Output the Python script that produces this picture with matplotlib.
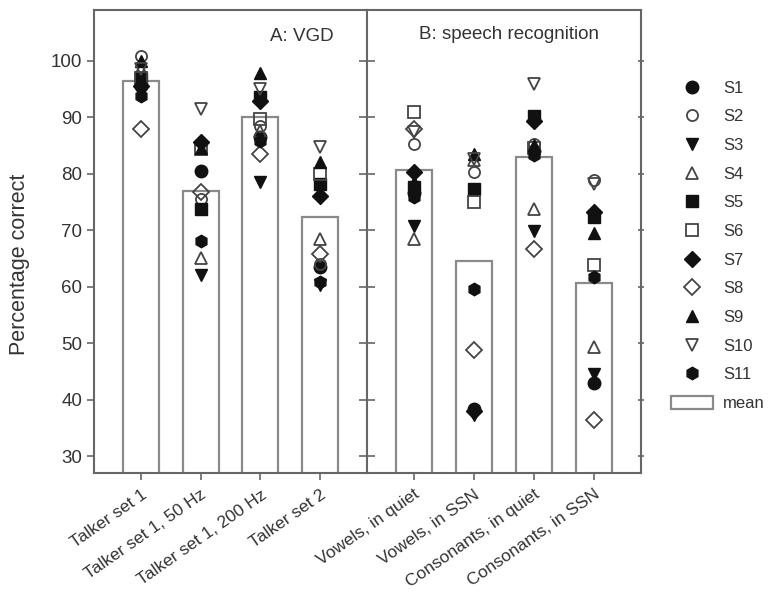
import matplotlib
matplotlib.use("Agg")
import matplotlib.pyplot as plt
from matplotlib.lines import Line2D
from matplotlib.patches import Patch

plt.rcParams["font.family"] = ["Liberation Sans", "DejaVu Sans"]

# conditions: first four = panel A (VGD), last four = panel B (speech recognition)
conditions = ["Talker set 1", "Talker set 1, 50 Hz", "Talker set 1, 200 Hz", "Talker set 2",
              "Vowels, in quiet", "Vowels, in SSN", "Consonants, in quiet", "Consonants, in SSN"]
means = [96.5, 76.9, 90.1, 72.3, 80.7, 64.5, 83.0, 60.6]

S1 = [95.5, 80.5, 86.5, 63.5, 76.5, 38.3, 84.0, 42.9]
S2 = [100.8, 75.5, 88.5, 64.0, 85.3, 80.3, 85.3, 78.8]
S3 = [97.0, 62.0, 78.5, 60.3, 70.8, 37.3, 69.8, 44.6]
S4 = [98.5, 65.0, 87.5, 68.5, 68.5, 82.5, 73.8, 49.3]
S5 = [96.8, 73.8, 93.5, 78.2, 77.6, 77.3, 90.3, 72.3]
S6 = [97.0, 84.4, 89.7, 80.0, 90.9, 75.0, 84.5, 63.8]
S7 = [95.5, 85.6, 92.8, 76.1, 80.3, 38.0, 89.4, 73.2]
S8 = [88.0, 76.7, 83.5, 65.8, 88.0, 48.7, 66.6, 36.4]
S9 = [100.0, 84.5, 97.9, 82.0, 78.5, 83.5, 85.0, 69.5]
S10 = [98.6, 91.5, 95.0, 84.7, 87.3, 82.6, 95.9, 78.2]
S11 = [93.7, 68.0, 85.8, 60.8, 75.8, 59.6, 83.3, 61.7]

subjects = [S1, S2, S3, S4, S5, S6, S7, S8, S9, S10, S11]
names = ["S%d" % (i + 1) for i in range(len(subjects))]
# (marker, filled, size)
styles = [("o", True, 9), ("o", False, 8), ("v", True, 9), ("^", False, 9),
          ("s", True, 8), ("s", False, 8), ("D", True, 8), ("D", False, 8),
          ("^", True, 9), ("v", False, 9), ("h", True, 9)]

INK = "#111111"
FRAME = "#666666"
BAR = "#8a8a8a"
TEXT = "#333333"

fig = plt.figure(figsize=(7.75, 5.93), dpi=100)
axA = fig.add_axes([0.1213, 0.2024, 0.3523, 0.7808])
axB = fig.add_axes([0.4735, 0.2024, 0.3535, 0.7808], sharey=axA)


def draw(ax, idx):
    xs = list(range(len(idx)))
    ax.bar(xs, [means[i] for i in idx], width=0.6, facecolor="white",
           edgecolor=BAR, linewidth=1.6, zorder=1)
    for vals, (m, filled, ms) in zip(subjects, styles):
        ax.plot(xs, [vals[i] for i in idx], linestyle="none", marker=m, markersize=ms,
                markerfacecolor=INK if filled else "none",
                markeredgecolor=INK if filled else "#444444",
                markeredgewidth=1.0 if filled else 1.3, zorder=3, clip_on=False)
    ax.set_xlim(-0.78, 3.78)
    ax.set_xticks(xs)
    ax.set_xticklabels([conditions[i] for i in idx], rotation=35, ha="right",
                       rotation_mode="anchor", fontsize=12.5, color=TEXT)
    ax.tick_params(axis="x", direction="out", length=5, width=1.2, color=FRAME, pad=5)
    for sp in ax.spines.values():
        sp.set_color(FRAME)
        sp.set_linewidth(1.5)


draw(axA, [0, 1, 2, 3])
draw(axB, [4, 5, 6, 7])

axA.set_ylim(27, 109)
axA.set_yticks(range(30, 101, 10))
axA.tick_params(axis="y", direction="out", length=5, width=1.2, color=FRAME,
                labelsize=13.5, labelcolor=TEXT)
axA.spines["right"].set_visible(False)
axA.set_ylabel("Percentage correct", fontsize=15.5, color=TEXT)
axA.yaxis.set_label_coords(-0.235, 0.45)

# panel B: ticks crossing the shared divider, short outward ticks on the right
axB.tick_params(axis="y", left=True, right=True, labelleft=False,
                direction="inout", length=12, width=1.2, color=FRAME)
for t in axB.yaxis.get_major_ticks():
    t.tick2line.set_markersize(5)

axA.text(0.76, 0.942, "A: VGD", transform=axA.transAxes, ha="center", va="center",
         fontsize=13.5, color=TEXT)
axB.text(0.52, 0.946, "B: speech recognition", transform=axB.transAxes, ha="center",
         va="center", fontsize=13.5, color=TEXT)

handles = []
for (m, filled, ms), nm in zip(styles, names):
    handles.append(Line2D([], [], linestyle="none", marker=m, markersize=ms,
                          markerfacecolor=INK if filled else "none",
                          markeredgecolor=INK if filled else "#444444",
                          markeredgewidth=1.0 if filled else 1.3, label=nm))
handles.append(Patch(facecolor="white", edgecolor=BAR, linewidth=1.6, label="mean"))
leg = fig.legend(handles=handles, loc="upper left", bbox_to_anchor=(0.866, 0.864),
                 frameon=False, fontsize=12, handlelength=2.5, handleheight=0.8,
                 handletextpad=0.6, labelspacing=0.81, borderaxespad=0, borderpad=0)
for t in leg.get_texts():
    t.set_color(TEXT)

fig.savefig("out.png", dpi=100)
